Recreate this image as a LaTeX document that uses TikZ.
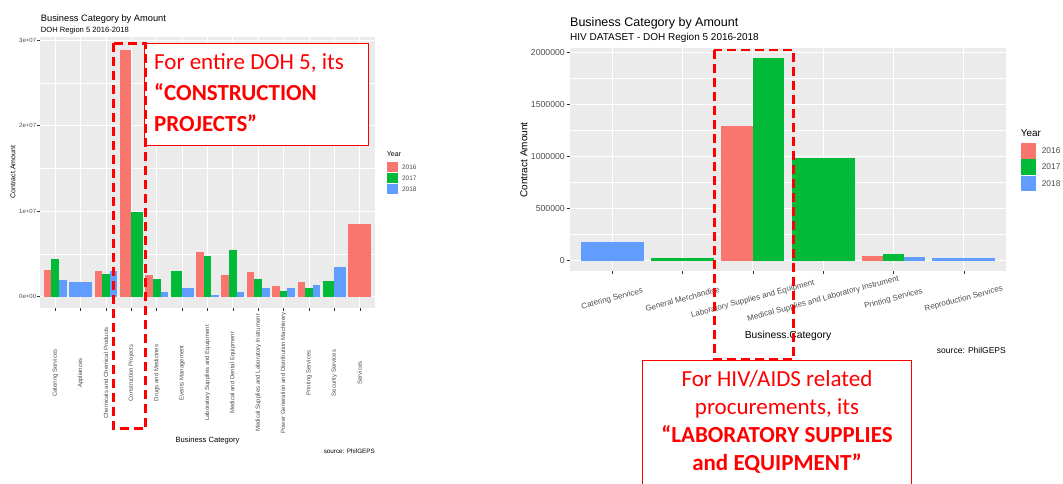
\documentclass[tikz,border=0pt]{standalone}
\usepackage{fontspec}
\setmainfont{Liberation Sans}
\newfontfamily\calibri{Carlito}
\usetikzlibrary{positioning}

\definecolor{c16}{HTML}{F8766D}
\definecolor{c17}{HTML}{00BA38}
\definecolor{c18}{HTML}{619CFF}
\definecolor{panelbg}{HTML}{EBEBEB}
\definecolor{gray30}{HTML}{4D4D4D}
\definecolor{gray20}{HTML}{333333}
\definecolor{annored}{HTML}{FF0000}

\tikzset{
	major/.style={white, line width=0.9pt},
	minor/.style={white, line width=0.45pt},
	tickmark/.style={gray20, line width=0.5pt},
	ticktext/.style={text=gray30, inner sep=0pt},
	keybox/.style={inner sep=0pt, minimum width=#1, minimum height=#1},
	hlbox/.style={annored, line width=2.6pt, dash pattern=on 9pt off 5pt},
	notebox/.style={draw=annored, fill=white, line width=1.2pt},
	notetext/.style={text=annored, inner sep=0pt}
}

\begin{document}
\begin{tikzpicture}[x=1pt, y=-1pt]
	\useasboundingbox (0,0) rectangle (1063,483);
	\clip (0,0) rectangle (1063,483);

	% left chart: all of DOH region 5
	\node (ltitle) [anchor=base west, inner sep=0pt, font=\fontsize{9.3}{11}\selectfont] at (40.7,21.7) {Business Category by Amount};
	\node (lsub) [anchor=base west, inner sep=0pt, font=\fontsize{7.6}{9}\selectfont] at (40.7,32) {DOH Region 5 2016-2018};
	\fill[panelbg] (40,37) rectangle (375,308.3);
	\foreach \g in {254,168.5,83} \draw[minor] (40,\g) -- (375,\g);
	\foreach \k/\t in {0/0e+00,1/1e+07,2/2e+07,3/3e+07} {
		\draw[major] (40,{296.7-85.5*\k}) -- (375,{296.7-85.5*\k});
		\draw[tickmark] (37.3,{296.7-85.5*\k}) -- (40,{296.7-85.5*\k});
		\node (ly\k) [ticktext, anchor=east, font=\fontsize{6}{7}\selectfont] at (36.3,{296.7-85.5*\k}) {\t};
	}
	\foreach \i in {1,...,13} {
		\draw[major] ({40+(\i-0.4)*25.379},37) -- ({40+(\i-0.4)*25.379},308.3);
		\draw[tickmark] ({40+(\i-0.4)*25.379},308.3) -- ({40+(\i-0.4)*25.379},311);
	}
	\foreach \i/\k/\n/\col/\v in {1/0/3/c16/0.31, 1/1/3/c17/0.44, 1/2/3/c18/0.19,
		2/0/1/c18/0.17,
		3/0/3/c16/0.30, 3/1/3/c17/0.27, 3/2/3/c18/0.30,
		4/0/2/c16/2.89, 4/1/2/c17/0.99,
		5/0/3/c16/0.25, 5/1/3/c17/0.21, 5/2/3/c18/0.05,
		6/0/2/c17/0.30, 6/1/2/c18/0.105,
		7/0/3/c16/0.52, 7/1/3/c17/0.48, 7/2/3/c18/0.015,
		8/0/3/c16/0.25, 8/1/3/c17/0.55, 8/2/3/c18/0.05,
		9/0/3/c16/0.29, 9/1/3/c17/0.21, 9/2/3/c18/0.105,
		10/0/3/c16/0.12, 10/1/3/c17/0.07, 10/2/3/c18/0.105,
		11/0/3/c16/0.17, 11/1/3/c17/0.105, 11/2/3/c18/0.14,
		12/0/2/c17/0.18, 12/1/2/c18/0.35,
		13/0/1/c16/0.85} {
		\pgfmathsetmacro\xa{40+(\i-0.4)*25.379-11.42+\k*22.84/\n}
		\fill[\col] (\xa,296.7) rectangle ({\xa+22.84/\n},{296.7-85.5*\v});
	}
	\foreach \i/\t in {1/Catering Services, 2/Appliances, 3/Chemicals and Chemical Products,
		4/Construction Projects, 5/Drugs and Medicines, 6/Events Management,
		7/Laboratory Supplies and Equipment, 8/Medical and Dental Equipment,
		9/Medical Supplies and Laboratory Instrument, 10/Power Generation and Distribution Machinery,
		11/Printing Services, 12/Security Services, 13/Services}
		\node (lx\i) [ticktext, rotate=90, font=\fontsize{6}{7}\selectfont] at ({40+(\i-0.4)*25.379},373) {\t};
	\node (lytitle) [rotate=90, inner sep=0pt, font=\fontsize{7}{8}\selectfont] at (13,172) {Contract.Amount};
	\node (lxtitle) [inner sep=0pt, font=\fontsize{7.6}{9}\selectfont] at (207.5,440.3) {Business Category};
	\node (lsource) [anchor=east, inner sep=0pt, font=\fontsize{6.3}{7}\selectfont] at (375,451) {source: PhilGEPS};

	% left legend
	\node (lyear) [anchor=west, inner sep=0pt, font=\fontsize{7}{8}\selectfont] at (386.7,154) {Year};
	\node (lkey16) [keybox=10.4pt, fill=c16] at (392.5,167) {};
	\node (lkey17) [keybox=10.4pt, fill=c17, below=0.3pt of lkey16] {};
	\node (lkey18) [keybox=10.4pt, fill=c18, below=0.3pt of lkey17] {};
	\node (llab16) [right=4pt of lkey16, ticktext, font=\fontsize{6.5}{7}\selectfont] {2016};
	\node (llab17) [right=4pt of lkey17, ticktext, font=\fontsize{6.5}{7}\selectfont] {2017};
	\node (llab18) [right=4pt of lkey18, ticktext, font=\fontsize{6.5}{7}\selectfont] {2018};

	% right chart: HIV dataset
	\node (rtitle) [anchor=base west, inner sep=0pt, font=\fontsize{12.5}{14}\selectfont] at (570,26) {Business Category by Amount};
	\node (rsub) [anchor=base west, inner sep=0pt, font=\fontsize{10}{12}\selectfont] at (570,40.5) {HIV DATASET - DOH Region 5 2016-2018};
	\fill[panelbg] (570,48.3) rectangle (1006,270.7);
	\foreach \g in {234.7,182.7,130.7,78.7} \draw[minor] (570,\g) -- (1006,\g);
	\foreach \k/\t in {0/0,1/500000,2/1000000,3/1500000,4/2000000} {
		\draw[major] (570,{260.7-52*\k}) -- (1006,{260.7-52*\k});
		\draw[tickmark] (566.5,{260.7-52*\k}) -- (570,{260.7-52*\k});
		\node (ry\k) [ticktext, anchor=east, font=\fontsize{8.7}{10}\selectfont] at (565,{260.7-52*\k}) {\t};
	}
	\foreach \i in {1,...,6} {
		\draw[major] ({570+(\i-0.4)*70.32},48.3) -- ({570+(\i-0.4)*70.32},270.7);
		\draw[tickmark] ({570+(\i-0.4)*70.32},270.7) -- ({570+(\i-0.4)*70.32},274.2);
	}
	\foreach \i/\k/\n/\col/\v in {1/0/1/c18/0.177,
		2/0/1/c17/0.03,
		3/0/2/c16/1.295, 3/1/2/c17/1.946,
		4/0/1/c17/0.988,
		5/0/3/c16/0.045, 5/1/3/c17/0.067, 5/2/3/c18/0.038,
		6/0/1/c18/0.03} {
		\pgfmathsetmacro\xa{570+(\i-0.4)*70.32-31.64+\k*63.29/\n}
		\fill[\col] (\xa,260.7) rectangle ({\xa+63.29/\n},{260.7-104*\v});
	}
	\foreach \i/\t in {1/Catering Services, 2/General Merchandise, 3/Laboratory Supplies and Equipment,
		4/Medical Supplies and Laboratory Instrument, 5/Printing Services, 6/Reproduction Services}
		\node (rx\i) [ticktext, rotate=15, font=\fontsize{8}{9}\selectfont] at ({570+(\i-0.4)*70.32},299) {\t};
	\node (rytitle) [rotate=90, inner sep=0pt, font=\fontsize{10}{12}\selectfont] at (524,160) {Contract Amount};
	\node (rxtitle) [inner sep=0pt, font=\fontsize{10.3}{12}\selectfont] at (788,336) {Business.Category};
	\node (rsource) [anchor=east, inner sep=0pt, font=\fontsize{8.5}{10}\selectfont] at (1006,350.7) {source: PhilGEPS};

	% right legend
	\node (ryear) [anchor=west, inner sep=0pt, font=\fontsize{9.9}{12}\selectfont] at (1020.7,133.3) {Year};
	\node (rkey16) [keybox=15.4pt, fill=c16] at (1028.7,150.8) {};
	\node (rkey17) [keybox=15.4pt, fill=c17, below=0.5pt of rkey16] {};
	\node (rkey18) [keybox=15.4pt, fill=c18, below=0.5pt of rkey17] {};
	\node (rlab16) [right=5pt of rkey16, ticktext, font=\fontsize{8.4}{10}\selectfont] {2016};
	\node (rlab17) [right=5pt of rkey17, ticktext, font=\fontsize{8.4}{10}\selectfont] {2017};
	\node (rlab18) [right=5pt of rkey18, ticktext, font=\fontsize{8.4}{10}\selectfont] {2018};

	% call-outs
	\draw[notebox] (144.3,43.3) rectangle (368.3,145.7);
	\node (lnote) [notetext, anchor=north west, align=left, font=\calibri\fontsize{23}{31}\selectfont] at (154,53.8)
		{For entire DOH 5, its\\\textbf{“CONSTRUCTION}\\\textbf{PROJECTS”}};
	\draw[hlbox] (113.3,43.3) rectangle (145.7,428.7);
	\draw[hlbox] (714.3,50) rectangle (793.7,359.5);
	\draw[notebox] (642.7,360.7) rectangle (911.7,495);
	\node (rnote) [notetext, anchor=north, align=center, font=\calibri\fontsize{23}{28}\selectfont] at (777,370.4)
		{For HIV/AIDS related\\procurements, its\\\textbf{“LABORATORY SUPPLIES}\\\textbf{and EQUIPMENT”}};
\end{tikzpicture}
\end{document}
